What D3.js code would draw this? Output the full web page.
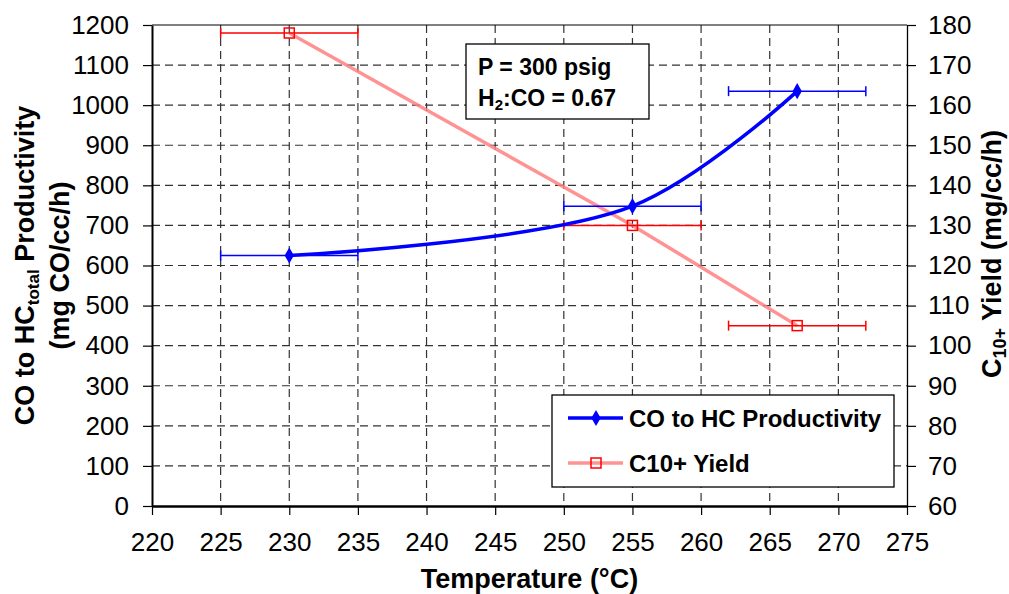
<!DOCTYPE html>
<html>
<head>
<meta charset="utf-8">
<script src="https://cdn.jsdelivr.net/npm/d3@7"></script>
<style>
  body { margin: 0; background: #fff; }
  text { font-family: "Liberation Sans", Arial, sans-serif; }
</style>
</head>
<body>
<div class="chart"></div>
<script>
// data
var temps = [230, 255, 267]
var tempErr = [5, 5, 5]
var productivity = [625, 748, 1035]   // mg CO/cc/h, left axis
var c10Yield = [178, 130, 105]         // mg/cc/h, right axis
var xTicks = d3.range(220, 276, 5)
var yLeftTicks = d3.range(0, 1201, 100)
var yRightTicks = d3.range(60, 181, 10)
var seriesNames = ["CO to HC Productivity", "C10+ Yield"]

var W = 1009, H = 594
var L = 152, R = 907, T = 25, B = 506

var svg = d3.select(".chart").append("svg")
    .attr("width", W).attr("height", H)

var x = d3.scaleLinear().domain([220, 275]).range([L, R])
var yL = d3.scaleLinear().domain([0, 1200]).range([B, T])
var yR = d3.scaleLinear().domain([60, 180]).range([B, T])

// grid
var grid = svg.append("g").attr("stroke", "#333").attr("stroke-width", 1.2)
    .attr("stroke-dasharray", "8,5")
grid.selectAll(".gh").data(yLeftTicks.slice(1, -1)).enter().append("line")
    .attr("x1", L).attr("x2", R).attr("y1", d => yL(d)).attr("y2", d => yL(d))
grid.selectAll(".gv").data(xTicks.slice(1, -1)).enter().append("line")
    .attr("y1", T).attr("y2", B).attr("x1", d => x(d)).attr("x2", d => x(d))

// top border
svg.append("line").attr("x1", L).attr("x2", R).attr("y1", T).attr("y2", T)
    .attr("stroke", "#000").attr("stroke-width", 1)

// axes
var fontTick = "26px"
var fmt = d3.format("d")
var ax = svg.append("g").attr("transform", "translate(0," + B + ")")
    .call(d3.axisBottom(x).tickValues(xTicks).tickFormat(fmt).tickSize(9).tickSizeOuter(0).tickPadding(18))
var ayl = svg.append("g").attr("transform", "translate(" + L + ",0)")
    .call(d3.axisLeft(yL).tickValues(yLeftTicks).tickFormat(fmt).tickSize(9).tickSizeOuter(0).tickPadding(14))
var ayr = svg.append("g").attr("transform", "translate(" + R + ",0)")
    .call(d3.axisRight(yR).tickValues(yRightTicks).tickFormat(fmt).tickSize(9).tickSizeOuter(0).tickPadding(12))
;[ax, ayl, ayr].forEach(function(g) {
    g.selectAll("text").attr("font-size", fontTick).attr("fill", "#000")
        .style("font-family", "'Liberation Sans', Arial, sans-serif")
    g.selectAll(".tick line").attr("stroke", "#000").attr("stroke-width", 1.2)
    g.select(".domain").attr("stroke", "#000")
})
ax.select(".domain").attr("stroke-width", 2.5)
ayl.select(".domain").attr("stroke-width", 2)
ayr.select(".domain").attr("stroke-width", 1.3)

// axis titles
svg.append("text").attr("x", (L + R) / 2).attr("y", 588)
    .attr("text-anchor", "middle").attr("font-size", "27px").attr("font-weight", "bold")
    .text("Temperature (°C)")

var lt = svg.append("text").attr("transform", "translate(34," + ((T + B) / 2) + ") rotate(-90)")
    .attr("text-anchor", "middle").attr("font-size", "27px").attr("font-weight", "bold")
lt.append("tspan").text("CO to HC")
lt.append("tspan").attr("font-size", "17px").attr("dy", 5).text("total")
lt.append("tspan").attr("dy", -5).text(" Productivity")
svg.append("text").attr("transform", "translate(69," + ((T + B) / 2) + ") rotate(-90)")
    .attr("text-anchor", "middle").attr("font-size", "27px").attr("font-weight", "bold")
    .text("(mg CO/cc/h)")

var rt = svg.append("text").attr("transform", "translate(1001,254) rotate(-90)")
    .attr("text-anchor", "middle").attr("font-size", "27px").attr("font-weight", "bold")
rt.append("tspan").text("C")
rt.append("tspan").attr("font-size", "18px").attr("dy", 5).text("10+")
rt.append("tspan").attr("dy", -5).text(" Yield (mg/cc/h)")

// red series: line, error bars, markers
var redLine = d3.line().x(d => x(d[0])).y(d => yR(d[1]))
svg.append("path").datum(d3.zip(temps, c10Yield))
    .attr("d", redLine).attr("fill", "none")
    .attr("stroke", "#ff8080").attr("stroke-width", 3.5).attr("opacity", 0.85)

function errBars(vals, scale, color) {
    var g = svg.append("g").attr("stroke", color).attr("stroke-width", 1.5)
    temps.forEach(function(t, i) {
        var yy = scale(vals[i])
        g.append("line").attr("x1", x(t - tempErr[i])).attr("x2", x(t + tempErr[i]))
            .attr("y1", yy).attr("y2", yy)
        ;[t - tempErr[i], t + tempErr[i]].forEach(function(e) {
            g.append("line").attr("x1", x(e)).attr("x2", x(e))
                .attr("y1", yy - 5).attr("y2", yy + 5)
        })
    })
}
errBars(c10Yield, yR, "#ff0000")

svg.selectAll(".sq").data(d3.zip(temps, c10Yield)).enter().append("rect")
    .attr("x", d => x(d[0]) - 5).attr("y", d => yR(d[1]) - 5)
    .attr("width", 10).attr("height", 10)
    .attr("fill", "none").attr("stroke", "#ff0000").attr("stroke-width", 1.5)

// blue series: smoothed line, error bars, markers
var blueLine = d3.line().x(d => x(d[0])).y(d => yL(d[1])).curve(d3.curveCatmullRom.alpha(0.5))
svg.append("path").datum(d3.zip(temps, productivity))
    .attr("d", blueLine).attr("fill", "none")
    .attr("stroke", "#0000ff").attr("stroke-width", 3.5)
errBars(productivity, yL, "#0000ff")
var diamond = d3.symbol().type(d3.symbolDiamond).size(75)
svg.selectAll(".dm").data(d3.zip(temps, productivity)).enter().append("path")
    .attr("d", diamond)
    .attr("transform", d => "translate(" + x(d[0]) + "," + yL(d[1]) + ")")
    .attr("fill", "#0000ff")

// annotation box
svg.append("rect").attr("x", 466).attr("y", 44).attr("width", 183).attr("height", 75)
    .attr("fill", "#fff").attr("stroke", "#000").attr("stroke-width", 1.3)
svg.append("text").attr("x", 478).attr("y", 75).attr("font-size", "23px")
    .attr("font-weight", "bold").text("P = 300 psig")
var h2 = svg.append("text").attr("x", 478).attr("y", 106).attr("font-size", "23px")
    .attr("font-weight", "bold")
h2.append("tspan").text("H")
h2.append("tspan").attr("font-size", "15px").attr("dy", 4).text("2")
h2.append("tspan").attr("dy", -4).text(":CO = 0.67")

// legend
var lg = svg.append("g")
lg.append("rect").attr("x", 552).attr("y", 395).attr("width", 342).attr("height", 92)
    .attr("fill", "#fff").attr("stroke", "#000").attr("stroke-width", 1.3)
lg.append("line").attr("x1", 568).attr("x2", 623).attr("y1", 418).attr("y2", 418)
    .attr("stroke", "#0000ff").attr("stroke-width", 3.5)
lg.append("path").attr("d", diamond).attr("transform", "translate(596,418)").attr("fill", "#0000ff")
lg.append("line").attr("x1", 568).attr("x2", 623).attr("y1", 463).attr("y2", 463)
    .attr("stroke", "#ff8080").attr("stroke-width", 3.5).attr("opacity", 0.85)
lg.append("rect").attr("x", 591).attr("y", 458).attr("width", 10).attr("height", 10)
    .attr("fill", "none").attr("stroke", "#ff0000").attr("stroke-width", 1.5)
lg.selectAll(".lt").data(seriesNames).enter().append("text")
    .attr("x", 629).attr("y", (d, i) => 427 + i * 45)
    .attr("font-size", "24px").attr("font-weight", "bold").text(d => d)
</script>
</body>
</html>
